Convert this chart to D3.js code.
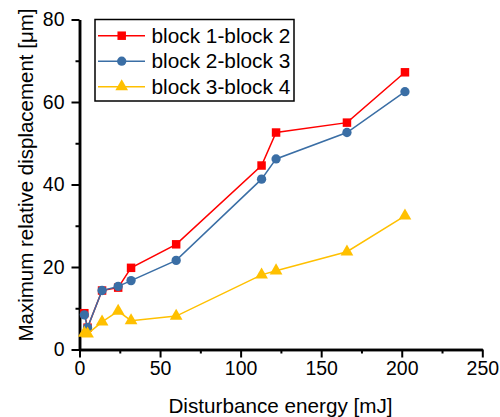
<!DOCTYPE html>
<html>
<head>
<meta charset="utf-8">
<script src="https://cdn.jsdelivr.net/npm/d3@7"></script>
<style>
  html, body { margin: 0; padding: 0; background: #fff; }
  svg { display: block; font-family: "Liberation Sans", Arial, sans-serif; }
</style>
</head>
<body>
<svg id="chart" width="500" height="417"></svg>
<script>
const energy = [3, 5, 14, 24, 32, 60, 113, 122, 166, 202];
const block12 = [8.8, 5.3, 14.3, 15.0, 19.8, 25.5, 44.6, 52.6, 55.0, 67.2];
const block23 = [8.4, 5.3, 14.3, 15.3, 16.7, 21.6, 41.3, 46.2, 52.6, 62.5];
const block34 = [4.0, 3.8, 6.7, 9.3, 7.0, 8.1, 18.1, 19.1, 23.7, 32.4];
const seriesNames = ["block 1-block 2", "block 2-block 3", "block 3-block 4"];
const xTicks = [0, 50, 100, 150, 200, 250];
const yTicks = [0, 20, 40, 60, 80];
const xMinor = [25, 75, 125, 175, 225];
const yMinor = [10, 30, 50, 70];

const series = [
  { name: seriesNames[0], values: block12, color: "#ff0000", symbol: d3.symbolSquare, size: 72 },
  { name: seriesNames[1], values: block23, color: "#3a6ea5", symbol: d3.symbolCircle, size: 68 },
  { name: seriesNames[2], values: block34, color: "#ffc000", symbol: d3.symbolTriangle, size: 70 }
];

const svg = d3.select("#chart");
const x = d3.scaleLinear().domain([0, 250]).range([79.5, 482.3]);
const y = d3.scaleLinear().domain([0, 80]).range([349.5, 19.5]);

// axes
const xAxis = svg.append("g").attr("transform", `translate(0,${y(0)})`)
  .call(d3.axisBottom(x).tickValues(xTicks).tickSize(8).tickPadding(4).tickSizeOuter(0));
const xAxisMinor = svg.append("g").attr("transform", `translate(0,${y(0)})`)
  .call(d3.axisBottom(x).tickValues(xMinor).tickSize(4).tickFormat("").tickSizeOuter(0));
const yAxis = svg.append("g").attr("transform", `translate(${x(0)},0)`)
  .call(d3.axisLeft(y).tickValues(yTicks).tickSize(8).tickPadding(7).tickSizeOuter(0));
const yAxisMinor = svg.append("g").attr("transform", `translate(${x(0)},0)`)
  .call(d3.axisLeft(y).tickValues(yMinor).tickSize(4).tickFormat("").tickSizeOuter(0));

[xAxis, xAxisMinor, yAxis, yAxisMinor].forEach(g => {
  g.selectAll("path.domain").attr("stroke", "#000").attr("stroke-width", 2.5);
  g.selectAll(".tick line").attr("stroke", "#000").attr("stroke-width", 2);
  g.selectAll(".tick text").attr("fill", "#000").style("font-size", "19.5px")
    .style("font-family", "'Liberation Sans', Arial, sans-serif");
});

// axis titles
svg.append("text").attr("x", 280.5).attr("y", 413).attr("text-anchor", "middle")
  .style("font-size", "20.7px").attr("fill", "#000").text("Disturbance energy [mJ]");
svg.append("text").attr("transform", "translate(33,175) rotate(-90)").attr("text-anchor", "middle")
  .style("font-size", "20.5px").attr("fill", "#000").text("Maximum relative displacement [μm]");

// series
const line = d3.line().x((d, i) => x(energy[i])).y(d => y(d));
series.forEach(s => {
  svg.append("path").datum(s.values).attr("d", line)
    .attr("fill", "none").attr("stroke", s.color).attr("stroke-width", 1.5);
  svg.append("g").selectAll("path").data(s.values).join("path")
    .attr("transform", (d, i) => `translate(${x(energy[i])},${y(d)})`)
    .attr("d", d3.symbol().type(s.symbol).size(s.size))
    .attr("fill", s.color);
});

// legend
const lg = svg.append("g");
lg.append("rect").attr("x", 95).attr("y", 19.5).attr("width", 199).attr("height", 81.5)
  .attr("fill", "#fff").attr("stroke", "#000").attr("stroke-width", 1.5);
series.forEach((s, i) => {
  const cy = 35.7 + i * 25.5;
  lg.append("line").attr("x1", 98).attr("x2", 145).attr("y1", cy).attr("y2", cy)
    .attr("stroke", s.color).attr("stroke-width", 1.5);
  lg.append("path").attr("transform", `translate(121.7,${cy})`)
    .attr("d", d3.symbol().type(s.symbol).size(s.size)).attr("fill", s.color);
  lg.append("text").attr("x", 151.5).attr("y", cy + 7).style("font-size", "20.8px")
    .attr("fill", "#000").text(s.name);
});
</script>
</body>
</html>
